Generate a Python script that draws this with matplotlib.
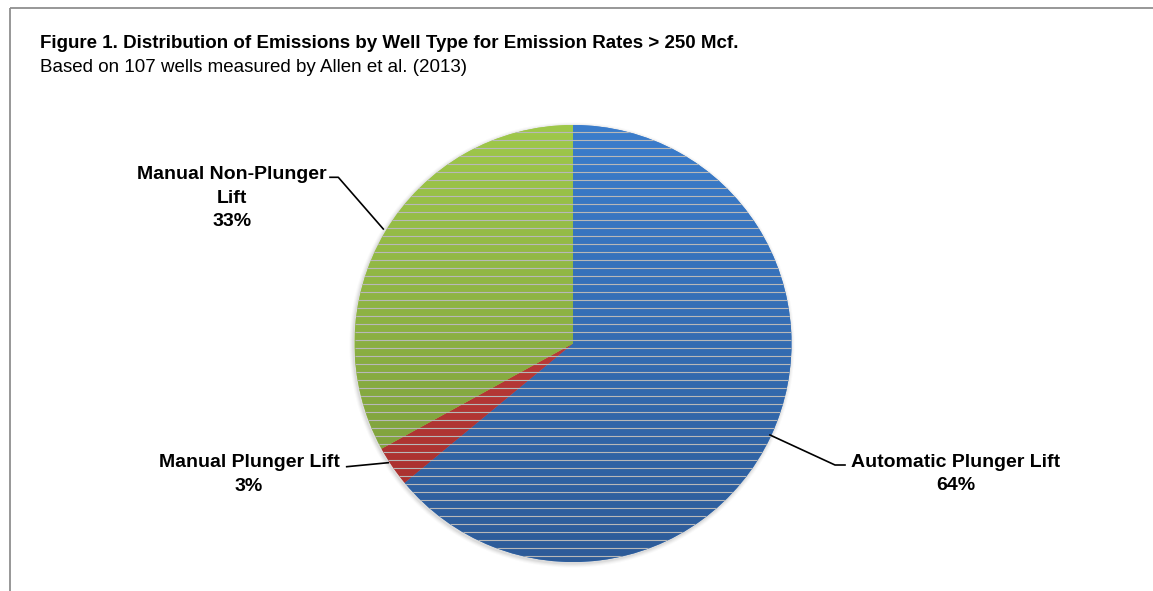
import numpy as np
import matplotlib
matplotlib.use("Agg")
import matplotlib.pyplot as plt
from matplotlib.colors import LinearSegmentedColormap
from matplotlib.patches import Circle
from matplotlib.collections import LineCollection

W, H = 1153, 591

labels = [["Automatic Plunger Lift"], ["Manual Plunger Lift"], ["Manual Non-Plunger", "Lift"]]
shares = [64, 3, 33]
# (top colour, bottom colour) of each slice's vertical shading
shades = [("#3b7dcc", "#2d5b98"), ("#d04744", "#a22d2b"), ("#9fc84a", "#76963a")]

title = "Figure 1. Distribution of Emissions by Well Type for Emission Rates > 250 Mcf."
subtitle = "Based on 107 wells measured by Allen et al. (2013)"

plt.rcParams["font.family"] = ["Liberation Sans", "DejaVu Sans"]

fig = plt.figure(figsize=(W / 100, H / 100), dpi=100)
ax = fig.add_axes([0, 0, 1, 1])


def py(y):
    # pixel row (from top) -> axis y
    return H - y


cx, cy, r = 573, py(343.5), 218.5

wedges, _ = ax.pie(shares, startangle=90, counterclock=False, center=(cx, cy),
                   radius=r, colors=[s[0] for s in shades],
                   wedgeprops=dict(linewidth=0))

# soft shadow, heavier towards the lower left
for k, a in [(4, 0.04), (3, 0.06), (2, 0.08), (1, 0.12)]:
    ax.add_patch(Circle((cx - 1, cy - 1.5), r + k, color="#7f7f7f", alpha=a, lw=0, zorder=0))

grad = np.linspace(0, 1, 256).reshape(-1, 1)
for w, (top, bot) in zip(wedges, shades):
    w.set_zorder(1)
    cmap = LinearSegmentedColormap.from_list("s", [top, bot])
    im = ax.imshow(grad, cmap=cmap, extent=[cx - r, cx + r, cy - r, cy + r],
                   origin="upper", aspect="auto", zorder=2, interpolation="bilinear")
    im.set_clip_path(w)

# fine horizontal rules across the disc
rows = np.arange(132.3, 562, 8)
segs = [[(cx - r, py(y)), (cx + r, py(y))] for y in rows]
lc = LineCollection(segs, colors="#b8b8b8", linewidths=0.8, zorder=3)
ax.add_collection(lc)
lc.set_clip_path(Circle((cx, cy), r, transform=ax.transData))

ax.set_xlim(0, W)
ax.set_ylim(0, H)
ax.set_aspect("auto")
ax.axis("off")

# frame (top and left edges only)
ax.plot([9.5, W], [py(8), py(8)], color="#8f8f8f", lw=1.3, solid_capstyle="butt")
ax.plot([10, 10], [py(8), 0], color="#8f8f8f", lw=1.3, solid_capstyle="butt")

ax.text(40, py(48), title, fontsize=13.5, fontweight="bold", va="baseline", ha="left")
ax.text(40, py(72), subtitle, fontsize=13.5, va="baseline", ha="left")

# leader lines
ax.plot([770, 835, 845], [py(435), py(465), py(465)], color="black", lw=1.2)
ax.plot([388.3, 346.7], [py(462.7), py(466.7)], color="black", lw=1.2)
ax.plot([383.3, 338.3, 330], [py(229), py(177.3), py(177.3)], color="black", lw=1.2)

# label blocks: centre x, first baseline row
anchors = [(956, 466.7), (249, 467.3), (232, 179.3)]
step = 23.3
for lines, share, (x, y0) in zip(labels, shares, anchors):
    for i, line in enumerate(lines + [f"{share}%"]):
        ax.text(x, py(y0 + i * step), line, fontsize=14, fontweight="bold",
                ha="center", va="baseline")

fig.savefig("out.png", dpi=100)
